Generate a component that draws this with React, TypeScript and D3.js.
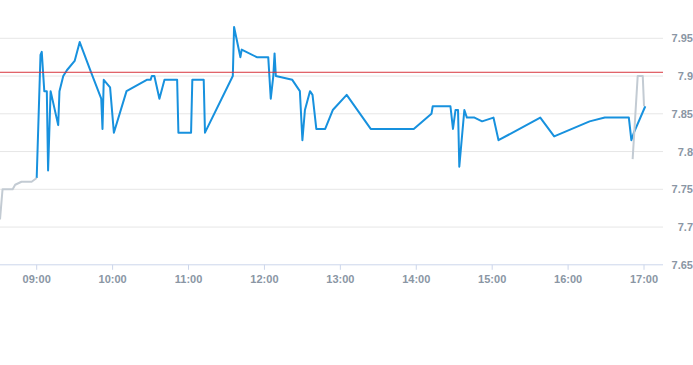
import React from "react";
import * as d3 from "d3";

const blueTimes = ["09:00","09:03","09:04","09:06","09:08","09:09","09:11","09:17","09:18","09:21","09:24","09:30","09:34","09:43","09:51","09:52","09:53","09:58","10:01","10:11","10:27","10:30","10:31","10:33","10:37","10:41","10:51","10:52","11:02","11:03","11:12","11:13","11:35","11:36","11:41","11:42","11:54","12:03","12:05","12:07","12:08","12:09","12:22","12:28","12:30","12:32","12:36","12:38","12:41","12:48","12:54","13:05","13:24","13:58","14:12","14:13","14:27","14:29","14:31","14:33","14:34","14:38","14:40","14:46","14:52","15:01","15:05","15:38","15:49","16:17","16:29","16:48","16:50","16:52","17:01"];
const blueValues = [7.765,7.928,7.932,7.88,7.88,7.775,7.88,7.835,7.88,7.9,7.908,7.92,7.945,7.905,7.87,7.83,7.895,7.885,7.825,7.88,7.895,7.895,7.9,7.9,7.87,7.895,7.895,7.825,7.825,7.895,7.895,7.825,7.9,7.965,7.925,7.935,7.925,7.925,7.87,7.9,7.93,7.9,7.895,7.88,7.815,7.855,7.88,7.875,7.83,7.83,7.855,7.875,7.83,7.83,7.85,7.86,7.86,7.83,7.855,7.855,7.78,7.855,7.845,7.845,7.84,7.845,7.815,7.845,7.82,7.84,7.845,7.845,7.815,7.825,7.86];

const grayStartTimes = ["08:31","08:33","08:41","08:43","08:48","08:56","09:00"];
const grayStartValues = [7.71,7.75,7.75,7.756,7.76,7.76,7.765];
const grayEndTimes = ["16:51","16:55","16:59","17:00"];
const grayEndValues = [7.79,7.9,7.9,7.86];

const referenceValue = 7.905;
const yTicks = [7.65,7.7,7.75,7.8,7.85,7.9,7.95];
const xTickLabels = ["09:00","10:00","11:00","12:00","13:00","14:00","15:00","16:00","17:00"];
const domainTimes = ["08:31","17:15"];

const toMin = (s: string) => {
  const [h, m] = s.split(":").map(Number);
  return h * 60 + m;
};

export default function App() {
  const W = 693, H = 365;
  const plotLeft = 0, plotRight = 663, plotTop = 38.3, plotBottom = 264.8;
  const x = d3.scaleLinear().domain(domainTimes.map(toMin)).range([plotLeft, plotRight]);
  const y = d3.scaleLinear().domain([7.65, 7.95]).range([plotBottom, plotTop]);
  const line = d3.line<[number, number]>().x(d => x(d[0])).y(d => y(d[1]));
  const mk = (t: string[], v: number[]) => t.map((s, i) => [toMin(s), v[i]] as [number, number]);
  const font = "'Liberation Sans', Arial, sans-serif";
  const labelColor = "#8a96a4";
  return (
    <svg width={W} height={H} style={{ position: "absolute", left: 0, top: 0 }} fontFamily={font}>
      <rect width={W} height={H} fill="#fff" />
      {yTicks.slice(1).map(v => (
        <line key={v} x1={plotLeft} x2={plotRight} y1={y(v)} y2={y(v)} stroke="#e6e6e6" strokeWidth={1} />
      ))}
      <line x1={plotLeft} x2={plotRight} y1={y(7.65)} y2={y(7.65)} stroke="#ccd6eb" strokeWidth={1} />
      {xTickLabels.map(t => (
        <g key={t}>
          <line x1={x(toMin(t))} x2={x(toMin(t))} y1={plotBottom} y2={plotBottom + 5} stroke="#ccd6eb" strokeWidth={1} />
          <text x={x(toMin(t))} y={283} textAnchor="middle" fontSize={11} fontWeight="bold" fill={labelColor}>{t}</text>
        </g>
      ))}
      {yTicks.map(v => (
        <text key={v} x={693} y={y(v) + 4} textAnchor="end" fontSize={11} fontWeight="bold" fill={labelColor}>{String(v)}</text>
      ))}
      <path d={line(mk(blueTimes, blueValues)) || ""} fill="none" stroke="#1791de" strokeWidth={2} strokeLinejoin="round" />
      <path d={line(mk(grayStartTimes, grayStartValues)) || ""} fill="none" stroke="#c3cbd3" strokeWidth={2} strokeLinejoin="round" />
      <path d={line(mk(grayEndTimes, grayEndValues)) || ""} fill="none" stroke="#c3cbd3" strokeWidth={2} strokeLinejoin="round" />
      <line x1={plotLeft} x2={plotRight} y1={y(referenceValue)} y2={y(referenceValue)} stroke="#d9363e" strokeWidth={1} />
    </svg>
  );
}
